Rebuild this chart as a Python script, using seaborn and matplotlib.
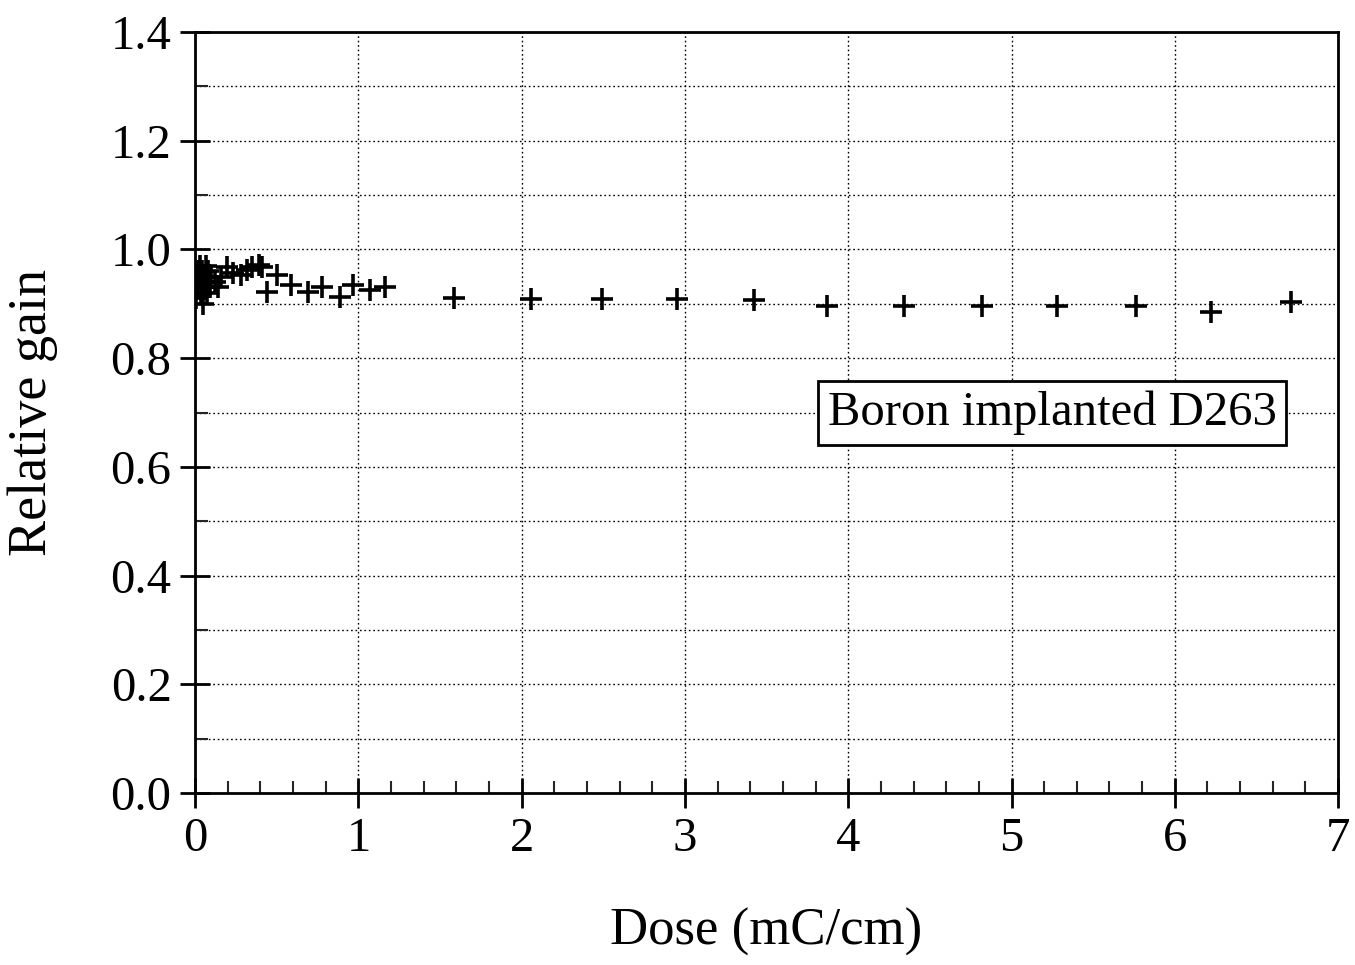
import matplotlib
matplotlib.use("Agg")
import matplotlib.pyplot as plt
import seaborn as sns
import pandas as pd
import numpy as np
from matplotlib.ticker import MultipleLocator

dose = [0.005, 0.01, 0.015, 0.02, 0.025, 0.03, 0.035, 0.04, 0.045, 0.05, 0.055, 0.06,
        0.065, 0.07, 0.075, 0.08, 0.09, 0.10, 0.12, 0.14, 0.16,
        0.196, 0.23, 0.28, 0.32, 0.35, 0.39, 0.41, 0.44, 0.50, 0.59, 0.69, 0.78,
        0.89, 0.97, 1.07, 1.16, 1.586, 2.06, 2.49, 2.95, 3.42, 3.87, 4.34, 4.82,
        5.28, 5.76, 6.22, 6.71]
gain = [0.91, 0.94, 0.96, 0.93, 0.95, 0.97, 0.92, 0.94, 0.96, 0.90, 0.93, 0.95,
        0.97, 0.92, 0.94, 0.96, 0.93, 0.95, 0.94, 0.93, 0.95,
        0.968, 0.956, 0.953, 0.962, 0.968, 0.971, 0.968, 0.922, 0.953, 0.934, 0.922, 0.931,
        0.912, 0.934, 0.925, 0.931, 0.911, 0.909, 0.909, 0.909, 0.907, 0.896, 0.896, 0.896,
        0.896, 0.896, 0.885, 0.904]

df = pd.DataFrame({"Dose": dose, "Gain": gain})

sns.set_style("white")
plt.rcParams['font.family'] = ['Liberation Serif', 'DejaVu Serif']
plt.rcParams['text.color'] = 'black'
plt.rcParams['axes.labelcolor'] = 'black'

fig = plt.figure(figsize=(13.55, 9.65), dpi=100)
ax = fig.add_axes([0.144, 0.178, 0.8435, 0.789])

sns.scatterplot(data=df, x="Dose", y="Gain", marker="+", s=240, color="black",
                linewidth=2.6, ax=ax, legend=False, zorder=3)

ax.set_xlim(0, 7)
ax.set_ylim(0, 1.4)
ax.xaxis.set_major_locator(MultipleLocator(1))
ax.xaxis.set_minor_locator(MultipleLocator(0.2))
ax.yaxis.set_major_locator(MultipleLocator(0.2))
ax.yaxis.set_minor_locator(MultipleLocator(0.1))
ax.set_yticks(np.arange(0, 1.41, 0.2))
ax.set_yticklabels([f"{v:.1f}" for v in np.arange(0, 1.41, 0.2)])

ax.grid(True, which="major", axis="x", linestyle=(0, (1.2, 2)), color="black", linewidth=1.0)
ax.grid(True, which="both", axis="y", linestyle=(0, (1.2, 2)), color="black", linewidth=1.0)

ax.tick_params(axis="both", which="both", bottom=True, left=True, top=False, right=False)
ax.tick_params(axis="both", which="major", direction="inout", length=22, width=2,
               labelsize=35, colors="black", pad=6)
ax.tick_params(axis="both", which="minor", direction="in", length=9, width=1.5)
for s in ax.spines.values():
    s.set_visible(True)
    s.set_color("black")
    s.set_linewidth(2)

ax.set_xlabel("Dose (mC/cm)", fontsize=38, labelpad=34, color="black")
ax.set_ylabel("Relative gain", fontsize=39, labelpad=38, color="black")

ax.text(5.25, 0.70, "Boron implanted D263", fontsize=35, ha="center", va="center",
        color="black",
        bbox=dict(boxstyle="square,pad=0.2", facecolor="white", edgecolor="black", linewidth=2),
        zorder=5)

fig.savefig("out.png", dpi=100)
